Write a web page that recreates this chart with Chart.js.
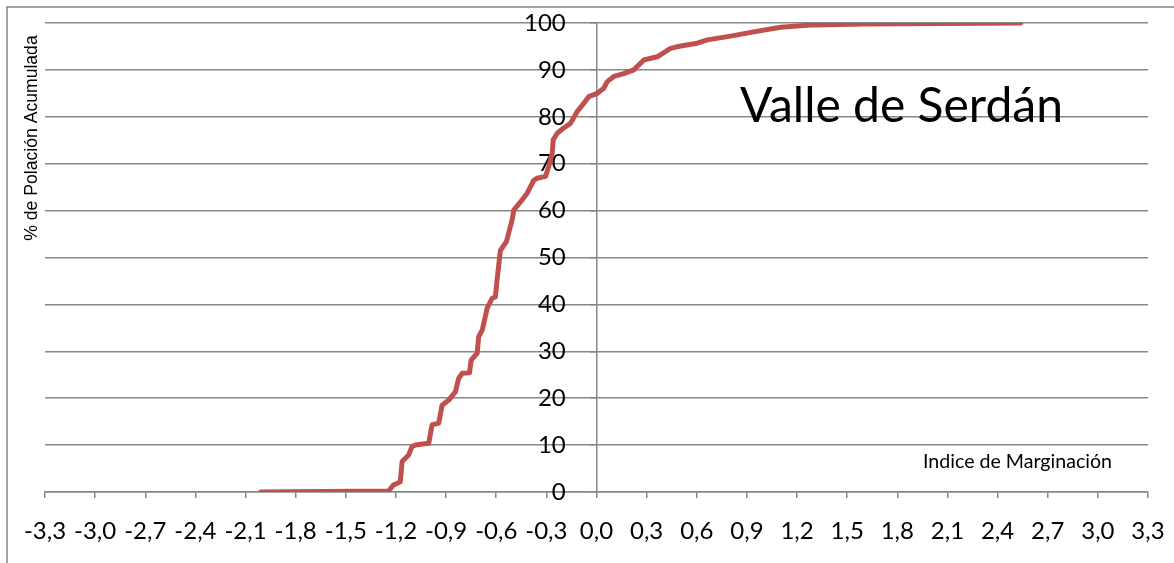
<!DOCTYPE html>
<html>
<head>
<meta charset="utf-8">
<script src="https://cdn.jsdelivr.net/npm/chart.js@4"></script>
<style>
  html, body { margin: 0; padding: 0; background: #fff; }
  #wrap { position: relative; width: 1174px; height: 563px; }
</style>
</head>
<body>
<div id="wrap"><canvas id="chart" width="1174" height="563"></canvas></div>
<script>
// cumulative population curve
const xValues = [-2.01, -1.245, -1.214, -1.174, -1.163, -1.124, -1.104, -1.084, -1.004, -0.984,
  -0.944, -0.924, -0.884, -0.844, -0.825, -0.804, -0.760, -0.750, -0.714, -0.705,
  -0.684, -0.654, -0.625, -0.605, -0.595, -0.585, -0.575, -0.539, -0.505, -0.495,
  -0.445, -0.415, -0.375, -0.355, -0.305, -0.286, -0.265, -0.259, -0.235, -0.196,
  -0.156, -0.116, -0.076, -0.046, 0.004, 0.044, 0.064, 0.104, 0.163, 0.223,
  0.283, 0.363, 0.443, 0.503, 0.603, 0.663, 0.802, 0.940, 1.102, 1.299,
  1.599, 2.539];
const yValues = [0, 0.2, 1.5, 2.2, 6.5, 7.9, 9.7, 10, 10.4, 14.3,
  14.7, 18.5, 19.6, 21.4, 24.2, 25.3, 25.4, 28.1, 29.6, 33.1,
  34.5, 39.2, 41.3, 41.6, 45.2, 48.4, 51.5, 53.4, 58, 60.1,
  62.3, 63.7, 66.5, 66.9, 67.3, 69.4, 72.2, 75.1, 76.5, 77.6,
  78.6, 81.1, 82.9, 84.3, 85, 86.1, 87.5, 88.6, 89.2, 90,
  92.1, 92.8, 94.6, 95.1, 95.7, 96.4, 97.2, 98.1, 99.1, 99.6,
  99.8, 100];

const xTicks = [-3.3, -3.0, -2.7, -2.4, -2.1, -1.8, -1.5, -1.2, -0.9, -0.6, -0.3,
  0, 0.3, 0.6, 0.9, 1.2, 1.5, 1.8, 2.1, 2.4, 2.7, 3.0, 3.3];
const yTicks = [0, 10, 20, 30, 40, 50, 60, 70, 80, 90, 100];

const chartTitle = 'Valle de Serdán';
const xTitle = 'Indice de Marginación';
const yTitle = '% de Polación Acumulada';

const gridColor = '#878787';
const lineColor = '#C0504D';

const points = xValues.map((x, i) => ({ x: x, y: yValues[i] }));

function fmtTick(v) {
  if (Math.abs(v) < 1e-9) v = 0;
  return v.toFixed(1).replace('.', ',');
}

// frame lines and free texts
const decor = {
  id: 'decor',
  beforeDraw(chart) {
    const ctx = chart.ctx;
    ctx.save();
    ctx.strokeStyle = gridColor;
    ctx.lineWidth = 1.5;
    ctx.beginPath();
    ctx.moveTo(7, chart.height);
    ctx.lineTo(7, 7);
    ctx.lineTo(chart.width, 7);
    ctx.stroke();
    ctx.restore();
  },
  afterDraw(chart) {
    const ctx = chart.ctx;
    ctx.save();
    ctx.fillStyle = '#000';
    ctx.textBaseline = 'alphabetic';
    ctx.textAlign = 'left';
    ctx.font = '48px Lato';
    ctx.fillText(chartTitle, 740, 122);
    ctx.font = '19.6px Lato';
    ctx.fillText(xTitle, 923, 468);

    ctx.translate(37, 138);
    ctx.rotate(-Math.PI / 2);
    ctx.textAlign = 'center';
    ctx.font = '17.6px "Liberation Sans"';
    ctx.fillText(yTitle, 0, 0);
    ctx.restore();
  }
};

new Chart(document.getElementById('chart'), {
  type: 'scatter',
  data: {
    datasets: [{
      data: points,
      showLine: true,
      borderColor: lineColor,
      backgroundColor: lineColor,
      borderWidth: 5,
      tension: 0,
      pointRadius: 0,
      pointHoverRadius: 0,
      borderCapStyle: 'round',
      borderJoinStyle: 'round'
    }]
  },
  options: {
    responsive: false,
    devicePixelRatio: 1,
    animation: false,
    layout: { padding: { left: 45, right: 26, top: 23, bottom: 0 } },
    plugins: {
      legend: { display: false },
      title: { display: false },
      tooltip: { enabled: false }
    },
    scales: {
      x: {
        type: 'linear',
        position: 'bottom',
        min: -3.3,
        max: 3.3,
        afterBuildTicks: s => { s.ticks = xTicks.map(v => ({ value: v })); },
        afterFit: s => { s.height = 71; s.paddingLeft = 0; s.paddingRight = 0; },
        grid: { drawOnChartArea: false, drawTicks: true, tickLength: 6, color: gridColor, lineWidth: 1.5 },
        border: { display: true, color: gridColor, width: 1.5 },
        ticks: {
          autoSkip: false, maxRotation: 0, minRotation: 0, padding: 19,
          color: '#000', font: { family: 'Lato', size: 24 },
          callback: v => fmtTick(v)
        }
      },
      y: {
        type: 'linear',
        position: { x: 0 },
        min: 0,
        max: 100,
        afterBuildTicks: s => { s.ticks = yTicks.map(v => ({ value: v })); },
        afterFit: s => { s.paddingTop = 0; s.paddingBottom = 0; },
        grid: { color: gridColor, lineWidth: 1.5, drawTicks: true, tickLength: 6 },
        border: { display: true, color: gridColor, width: 1.5 },
        ticks: {
          color: '#000', font: { family: 'Lato', size: 24 },
          // labels sit right on the axis, trailing spaces push them left
          callback: v => v + '     '
        }
      }
    }
  },
  plugins: [decor]
});
</script>
</body>
</html>
